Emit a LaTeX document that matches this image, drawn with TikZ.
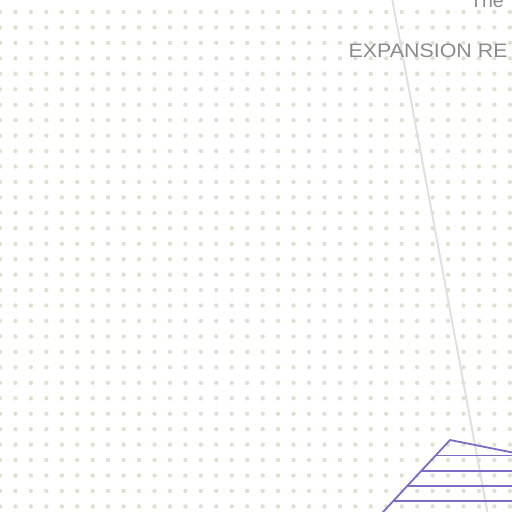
\documentclass[tikz,border=0pt]{standalone}
\usepackage{fontspec}
\setmainfont{Liberation Sans}
\definecolor{dotgrey}{RGB}{220,226,208}
\definecolor{railgrey}{RGB}{224,224,224}
\definecolor{labelgrey}{RGB}{138,138,138}
\definecolor{rampviolet}{RGB}{124,106,196}
\begin{document}
\begin{tikzpicture}[x=1pt, y=-1pt, font=\fontsize{19.5}{22}\selectfont]
  \useasboundingbox (0,0) rectangle (512,512);
  \clip (0,0) rectangle (512,512);

  % Dot grid
  \foreach \i in {0,...,33}
    \foreach \j in {0,...,32}
      \fill[dotgrey] (15.45*\i, 12+15.45*\j) circle[radius=2.2];

  % Guide line
  \draw[railgrey, line width=2] (392,-2) -- (487.8,514);

  % Title
  \node[labelgrey, anchor=base west, inner sep=0] (thelabel) at (470,7.3) {The};
  \node[labelgrey, anchor=base west, inner sep=0] (expansion) at (348.5,57)
    {\scalebox{1.097}[1]{EXPANSION RE}};

  % Ramp
  \coordinate (apex) at (450,440);
  \draw[rampviolet, line width=1.8, line join=round] (375.6,520) -- (apex) -- (520,454);
  \foreach \y in {455.5,470.6,485.7,500.8}
    \draw[rampviolet, line width=1.8] ({450-0.93*(\y-440)},\y) -- (520,\y);
\end{tikzpicture}
\end{document}
